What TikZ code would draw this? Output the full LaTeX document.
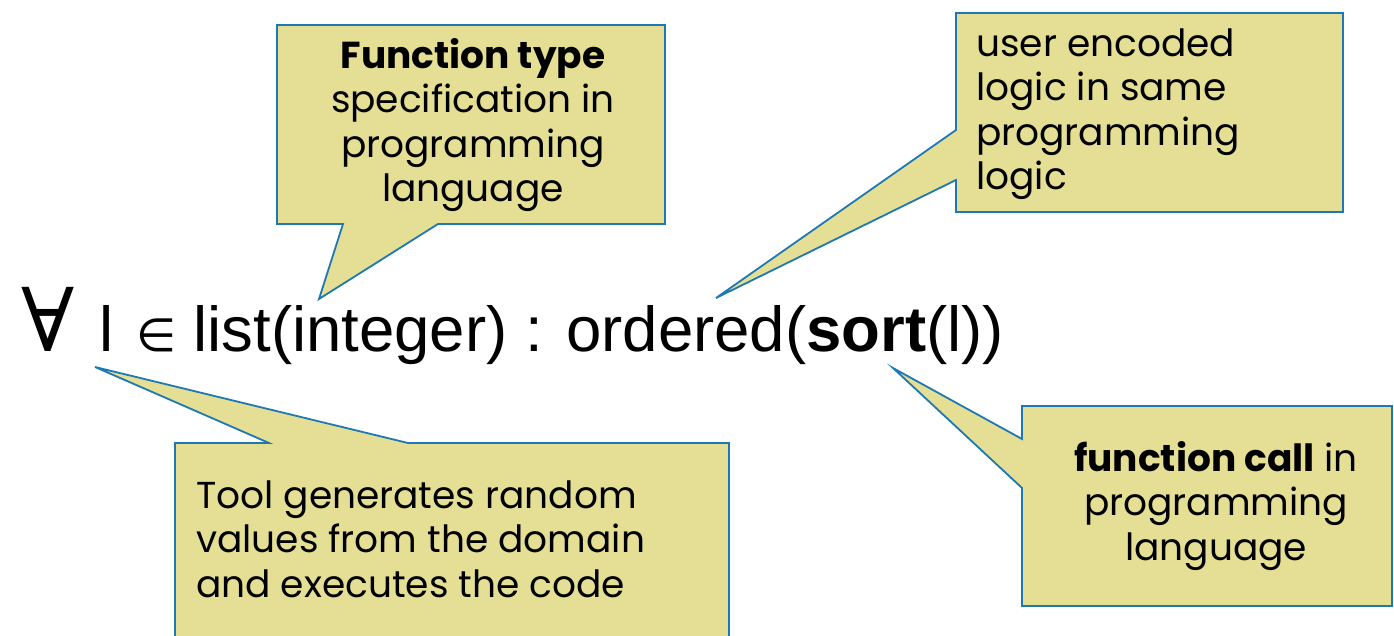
\documentclass[tikz,border=0pt]{standalone}
\usepackage{fontspec}
\setmainfont{Poppins}
\newfontfamily\formulafont{Liberation Sans}
\newfontfamily\symfont{DejaVu Sans}
\newfontfamily\quantfont{DejaVu Serif}
\definecolor{calloutfill}{RGB}{228,223,148}
\definecolor{calloutline}{RGB}{30,120,180}

\begin{document}
\begin{tikzpicture}[x=1pt,y=-1pt,
  balloon/.style={fill=calloutfill, draw=calloutline, line width=1.8pt, line join=miter},
  calltext/.style={inner sep=0pt, font=\fontsize{37.5}{44.5}\selectfont, text=black},
]
\useasboundingbox (0,0) rectangle (1394,636);

% the quantified property
\node[anchor=base west, inner sep=0pt, font=\formulafont\fontsize{63.5}{63.5}\selectfont] (formula) at (21,351)
  {{\quantfont\fontsize{88}{88}\selectfont ∀}\hspace{25pt}l\hspace{23pt}{\symfont\fontsize{46}{46}\selectfont ∈}\hspace{17pt}list(integer) : ordered(\textbf{sort}(l))};

% callout: function type
\coordinate (tipA) at (319,299);
\draw[balloon] (277,25) -- (665,25) -- (665,224) -- (438,224) -- (tipA) -- (343,224) -- (277,224) -- cycle;
\node[calltext, align=center, anchor=base] (typeText) at (473,202)
  {\textbf{Function type}\\specification in\\programming\\language};

% callout: user logic
\coordinate (tipB) at (716,298);
\draw[balloon] (956,13) -- (1343,13) -- (1343,212) -- (956,212) -- (956,180) -- (tipB) -- (956,130) -- cycle;
\node[calltext, align=left, anchor=base west] (logicText) at (976,190)
  {user encoded\\logic in same\\programming\\logic};

% callout: random value generation
\coordinate (tipC) at (95,367);
\draw[balloon] (175,443) -- (269,443) -- (tipC) -- (408,443) -- (729,443) -- (729,650) -- (175,650) -- cycle;
\node[calltext, align=left, anchor=base west] (toolText) at (196,597)
  {Tool generates random\\values from the domain\\and executes the code};

% callout: function call
\coordinate (tipD) at (893,368);
\draw[balloon] (1022,406) -- (1392,406) -- (1392,606) -- (1022,606) -- (1022,488) -- (tipD) -- (1022,439) -- cycle;
\node[calltext, align=center, anchor=base] (callText) at (1216,560)
  {\textbf{function call} in\\programming\\language};
\end{tikzpicture}
\end{document}
